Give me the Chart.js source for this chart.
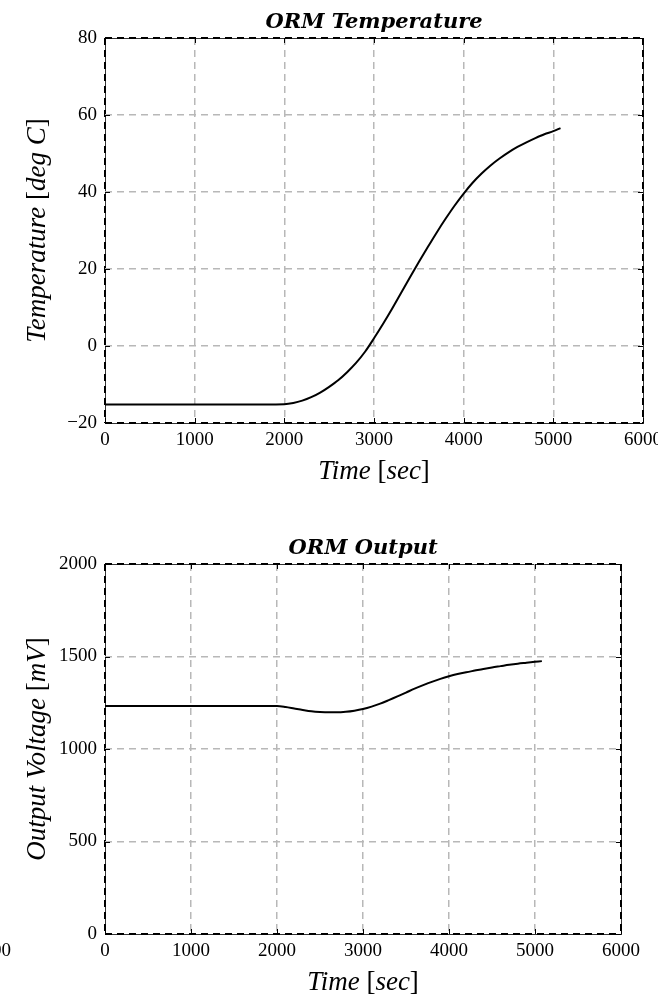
<!DOCTYPE html>
<html><head><meta charset="utf-8">
<script src="https://cdn.jsdelivr.net/npm/chart.js@4.4.1/dist/chart.umd.min.js"></script>
<style>
html,body{margin:0;padding:0;background:#fff;}
#wrap{position:relative;width:658px;height:996px;overflow:hidden;}
.box{position:absolute;left:0;width:658px;}
</style></head><body>
<div id="wrap">
<div class="box" style="top:0;height:500px"><canvas id="c1" width="658" height="500"></canvas></div>
<div class="box" style="top:500px;height:496px"><canvas id="c2" width="658" height="496"></canvas></div>
</div>
<script>
// ---- data ----
const timeSec = [0, 500, 1000, 1500, 2000, 2100, 2200, 2300, 2400, 2500, 2600, 2700, 2800, 2900, 3000, 3100, 3200, 3300, 3400, 3500, 3600, 3700, 3800, 3900, 4000, 4100, 4200, 4300, 4400, 4500, 4600, 4700, 4800, 4900, 5000, 5080];
const ormTemperature = [-15.2, -15.2, -15.2, -15.2, -15.1, -14.8, -14.2, -13.3, -12.1, -10.6, -8.9, -6.8, -4.4, -1.5, 2.0, 5.7, 9.6, 13.7, 17.8, 21.8, 25.7, 29.5, 33.1, 36.5, 39.6, 42.4, 44.8, 46.9, 48.7, 50.3, 51.7, 52.9, 54.0, 55.0, 55.8, 56.6];
const ormOutput = [1232, 1232, 1232, 1232, 1232, 1227, 1219, 1211, 1204, 1200, 1198, 1198, 1201, 1207, 1216, 1229, 1245, 1264, 1284, 1305, 1326, 1345, 1363, 1379, 1393, 1405, 1415, 1424, 1433, 1441, 1448, 1455, 1461, 1466, 1471, 1475];
const timeTicks = [0, 1000, 2000, 3000, 4000, 5000, 6000];
const tempTicks = [-20, 0, 20, 40, 60, 80];
const outputTicks = [0, 500, 1000, 1500, 2000];

const titles = ['ORM Temperature', 'ORM Output'];
const xLabelParts = [['Time ', 'i'], ['[', 'r'], ['sec', 'i'], [']', 'r']];
const yLabelTempParts = [['Temperature ', 'i'], ['[', 'r'], ['deg C', 'i'], [']', 'r']];
const yLabelOutParts = [['Output Voltage ', 'i'], ['[', 'r'], ['mV', 'i'], [']', 'r']];

const SERIF = '"Liberation Serif", serif';
const LBL_I = 'italic 27px ' + SERIF;
const LBL_R = '27px ' + SERIF;
const TITLE_F = 'bold italic 21px "DejaVu Serif", serif';

function drawRich(ctx, parts, x, y, rot) {
  ctx.save();
  ctx.translate(x, y);
  if (rot) ctx.rotate(rot);
  ctx.textBaseline = 'alphabetic';
  ctx.textAlign = 'left';
  ctx.fillStyle = '#000';
  let total = 0;
  parts.forEach(p => { ctx.font = p[1] === 'i' ? LBL_I : LBL_R; total += ctx.measureText(p[0]).width; });
  let cx = -total / 2;
  parts.forEach(p => { ctx.font = p[1] === 'i' ? LBL_I : LBL_R; ctx.fillText(p[0], cx, 0); cx += ctx.measureText(p[0]).width; });
  ctx.restore();
}

const deco = {
  id: 'deco',
  beforeDraw(chart, args, opts) {
    const a = chart.chartArea, ctx = chart.ctx;
    ctx.save();
    ctx.strokeStyle = '#333';
    ctx.lineWidth = 1;
    ctx.strokeRect(Math.round(a.left) + 0.5, Math.round(a.top) + 0.5, Math.round(a.right - a.left), Math.round(a.bottom - a.top));
    ctx.restore();
  },
  afterDraw(chart, args, opts) {
    const a = chart.chartArea, ctx = chart.ctx;
    const xs = chart.scales.x, ys = chart.scales.y;
    ctx.save();
    ctx.strokeStyle = '#000';
    ctx.lineWidth = 1;
    const L = 5;
    ctx.beginPath();
    xs.ticks.forEach(t => {
      const px = Math.round(xs.getPixelForValue(t.value)) + 0.5;
      ctx.moveTo(px, a.bottom); ctx.lineTo(px, a.bottom - L);
      ctx.moveTo(px, a.top); ctx.lineTo(px, a.top + L);
    });
    ys.ticks.forEach(t => {
      const py = Math.round(ys.getPixelForValue(t.value)) + 0.5;
      ctx.moveTo(a.left, py); ctx.lineTo(a.left + L, py);
      ctx.moveTo(a.right, py); ctx.lineTo(a.right - L, py);
    });
    ctx.stroke();
    ctx.font = TITLE_F;
    ctx.fillStyle = '#000';
    ctx.textAlign = 'center';
    ctx.textBaseline = 'alphabetic';
    ctx.fillText(opts.title, (a.left + a.right) / 2, a.top - 10);
    ctx.restore();
    drawRich(ctx, xLabelParts, (a.left + a.right) / 2, a.bottom + 56, 0);
    drawRich(ctx, opts.yParts, 45, (a.top + a.bottom) / 2, -Math.PI / 2);
    if (opts.stray) {
      ctx.save();
      ctx.font = '19px ' + SERIF;
      ctx.fillStyle = '#000';
      ctx.textAlign = 'right';
      ctx.textBaseline = 'middle';
      ctx.fillText(opts.stray, 11, a.bottom + 17.5);
      ctx.restore();
    }
  }
};

function edgeGrid(min, max) {
  return {
    color: c => (c.tick && (c.tick.value === min || c.tick.value === max)) ? '#000' : '#b8b8b8',
    lineWidth: c => (c.tick && (c.tick.value === min || c.tick.value === max)) ? 2 : 1.5,
    drawTicks: false
  };
}

function makeChart(id, values, yTicks, yMin, yMax, layout, title, yParts, stray) {
  const pts = timeSec.map((t, i) => ({ x: t, y: values[i] }));
  return new Chart(document.getElementById(id), {
    type: 'line',
    data: { datasets: [{ data: pts, borderColor: '#000', borderWidth: 2, pointRadius: 0, fill: false, cubicInterpolationMode: 'monotone' }] },
    options: {
      responsive: false,
      animation: false,
      layout: { padding: { left: 0, right: layout.right, top: layout.top, bottom: 0 } },
      plugins: { legend: { display: false }, tooltip: { enabled: false }, deco: { title: title, yParts: yParts, stray: stray } },
      scales: {
        x: {
          type: 'linear', min: 0, max: 6000,
          afterBuildTicks: s => { s.ticks = timeTicks.map(v => ({ value: v })); },
          afterFit: s => { s.height = layout.xh; s.paddingLeft = 0; s.paddingRight = 0; },
          ticks: { color: '#000', font: { family: 'Liberation Serif', size: 19 }, padding: 6, maxRotation: 0, autoSkip: false, callback: v => String(v) },
          grid: edgeGrid(0, 6000),
          border: { display: false, dash: [7, 5] }
        },
        y: {
          type: 'linear', min: yMin, max: yMax,
          afterBuildTicks: s => { s.ticks = yTicks.map(v => ({ value: v })); },
          afterFit: s => { s.width = 105; s.paddingTop = 0; s.paddingBottom = 0; },
          ticks: { color: '#000', font: { family: 'Liberation Serif', size: 19 }, padding: 8, callback: v => String(v).replace('-', '\u2212') },
          grid: edgeGrid(yMin, yMax),
          border: { display: false, dash: [7, 5] }
        }
      }
    },
    plugins: [deco]
  });
}

makeChart('c1', ormTemperature, tempTicks, -20, 80, { right: 15, top: 38, xh: 77 }, titles[0], yLabelTempParts, null);
makeChart('c2', ormOutput, outputTicks, 0, 2000, { right: 37, top: 64, xh: 62 }, titles[1], yLabelOutParts, '1000');
</script>
</body></html>
